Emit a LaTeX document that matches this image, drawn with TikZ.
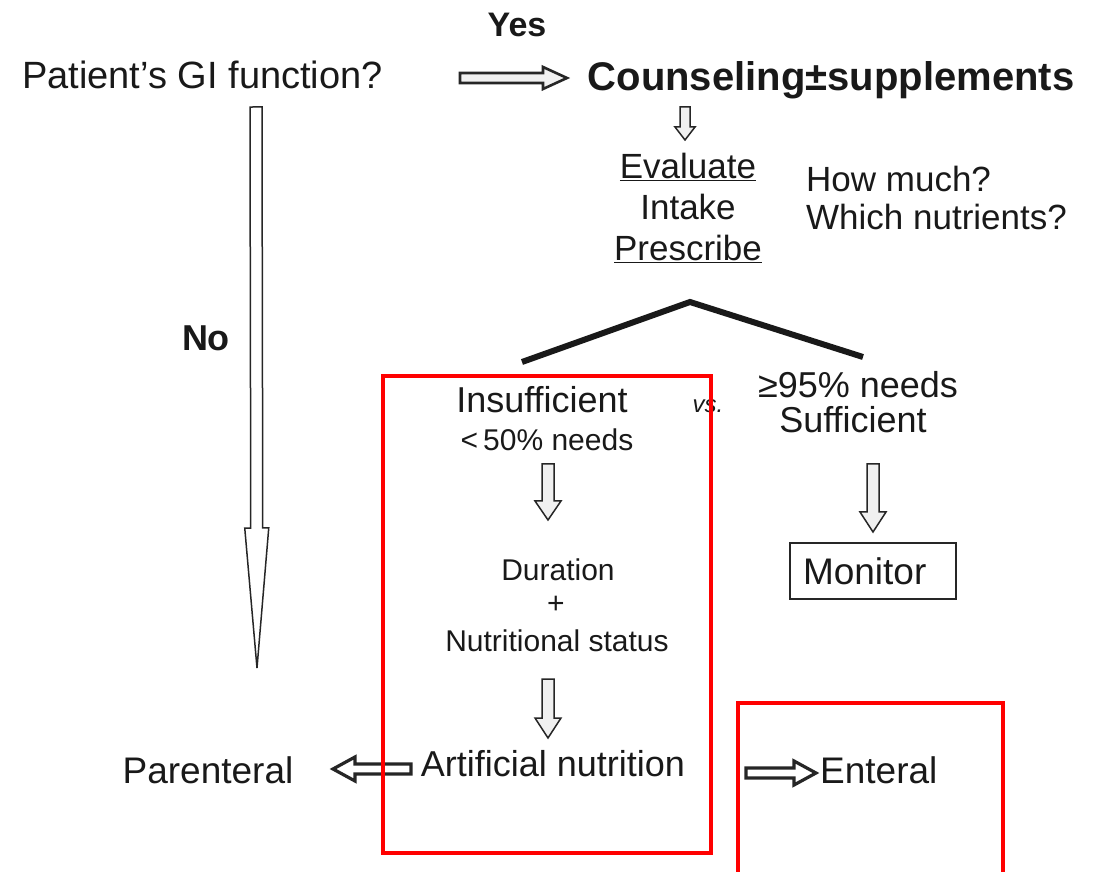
\documentclass[tikz,border=0pt]{standalone}
\usepackage{fontspec}
\setmainfont{Liberation Sans}
\usetikzlibrary{calc}

% Hollow block arrow between two points:
% #1 style, #2 start, #3 end, #4 shaft half width, #5 head half width, #6 head length
\newcommand{\fatarrow}[6][]{%
  \path let \p1=(#2),\p2=(#3) in \pgfextra{%
    \pgfmathsetmacro\faTmp{atan2(\y2-\y1,\x2-\x1)}\xdef\faAng{\faTmp}%
    \pgfmathsetmacro\faTmp{veclen(\x2-\x1,\y2-\y1)}\xdef\faLen{\faTmp}%
    \pgfmathsetmacro\faTmp{\x1}\xdef\faX{\faTmp}%
    \pgfmathsetmacro\faTmp{\y1}\xdef\faY{\faTmp}};
  \begin{scope}[shift={(\faX,\faY)},rotate=\faAng]
    \draw[blockarrow,#1] (0,-#4) -- (\faLen-#6,-#4) -- (\faLen-#6,-#5) -- (\faLen,0)
      -- (\faLen-#6,#5) -- (\faLen-#6,#4) -- (0,#4) -- cycle;
  \end{scope}}

\newcommand{\fs}[1]{\fontsize{#1}{#1}\selectfont}

\begin{document}
\begin{tikzpicture}[x=1pt,y=1pt,
  txt/.style={inner sep=0pt, text=black!90},
  blockarrow/.style={draw=black!85, fill=black!6, line width=1.5pt, line join=miter},
  boldarrow/.style={line width=3.2pt, fill=white},
  tree/.style={line width=6pt, black!90},
  redframe/.style={draw=red, line width=3.5pt},
  boxed/.style={draw=black!85, line width=1.5pt}]
\useasboundingbox (0,0) rectangle (1106,871);

% texts
\node[txt, anchor=west, font=\fs{38}] (gi) at (22,796) {Patient’s GI function?};
\node[txt, font=\bfseries\fs{34}] (yes) at (517,846) {Yes};
\node[txt, font=\bfseries\fs{40}] (couns) at (831,791) {Counseling±supplements};
\node[txt, font=\fs{35}, align=center] (eval) at (688,663)
  {\underline{Evaluate}\\[6pt]Intake\\[6pt]\underline{Prescribe}};
\node[txt, anchor=west, font=\fs{35}, align=left] (how) at (806,673)
  {How much?\\[3pt]Which nutrients?};
\node[txt, font=\bfseries\fs{36}] (no) at (206,533) {No};

\node[txt, font=\fs{36}] (insuf) at (542,471) {Insufficient};
\node[txt, font=\fs{30}] (need50) at (547,431) {<\,50\% needs};
\node[txt, font=\itshape\fs{24}] (vs) at (708,465) {vs.};
\node[txt, font=\fs{36}] (need95) at (858,486) {≥95\% needs};
\node[txt, font=\fs{36}] (suff) at (853,451) {Sufficient};

\node[txt, font=\fs{30}] (dur) at (558,301) {Duration};
\node[txt, font=\fs{30}] (plus) at (556,266) {+};
\node[txt, font=\fs{30}] (nutr) at (557,230) {Nutritional status};

\node[boxed, font=\fs{37}, text=black!90, minimum width=166pt, minimum height=56pt,
      text width=140pt, align=left, inner xsep=13pt, inner ysep=0pt] (monitor) at (873,300) {Monitor};

\node[txt, font=\fs{36}] (artif) at (553,107) {Artificial nutrition};
\node[txt, font=\fs{37}] (parent) at (208,101) {Parenteral};
\node[txt, anchor=west, font=\fs{37}] (enteral) at (820,101) {Enteral};

% arrow end points
\coordinate (yesA) at (460,793);  \coordinate (yesB) at (567,793);
\coordinate (evA) at (685,764);   \coordinate (evB) at (685,731);
\coordinate (noA) at (256,764);   \coordinate (noB) at (257,203);
\coordinate (inA) at (548,407);   \coordinate (inB) at (548,351);
\coordinate (sfA) at (873,407);   \coordinate (sfB) at (873,339);
\coordinate (ntA) at (548,192);   \coordinate (ntB) at (548,133);
\coordinate (paA) at (411,102);   \coordinate (paB) at (333,102);
\coordinate (enA) at (746,98);    \coordinate (enB) at (816,98);

% branching lines
\coordinate (tl) at (522,509);
\coordinate (apex) at (690,569);
\coordinate (tr) at (863,514);
\draw[tree] (tl) -- (apex) -- (tr);

% arrows
\fatarrow[line width=2.6pt]{yesA}{yesB}{5}{11}{24}
\fatarrow{evA}{evB}{5}{10}{13}
\fatarrow[fill=white]{noA}{noB}{6}{12}{140}
\fatarrow{inA}{inB}{6}{13}{19}
\fatarrow{sfA}{sfB}{6}{13}{20}
\fatarrow{ntA}{ntB}{6}{13}{20}
\fatarrow[boldarrow]{paA}{paB}{5}{12}{22}
\fatarrow[boldarrow]{enA}{enB}{5}{12}{22}

% highlight frames
\draw[redframe] (383,18) rectangle (711,495);
\draw[redframe] (738,-10) -- (738,168) -- (1003,168) -- (1003,-10);
\end{tikzpicture}
\end{document}
